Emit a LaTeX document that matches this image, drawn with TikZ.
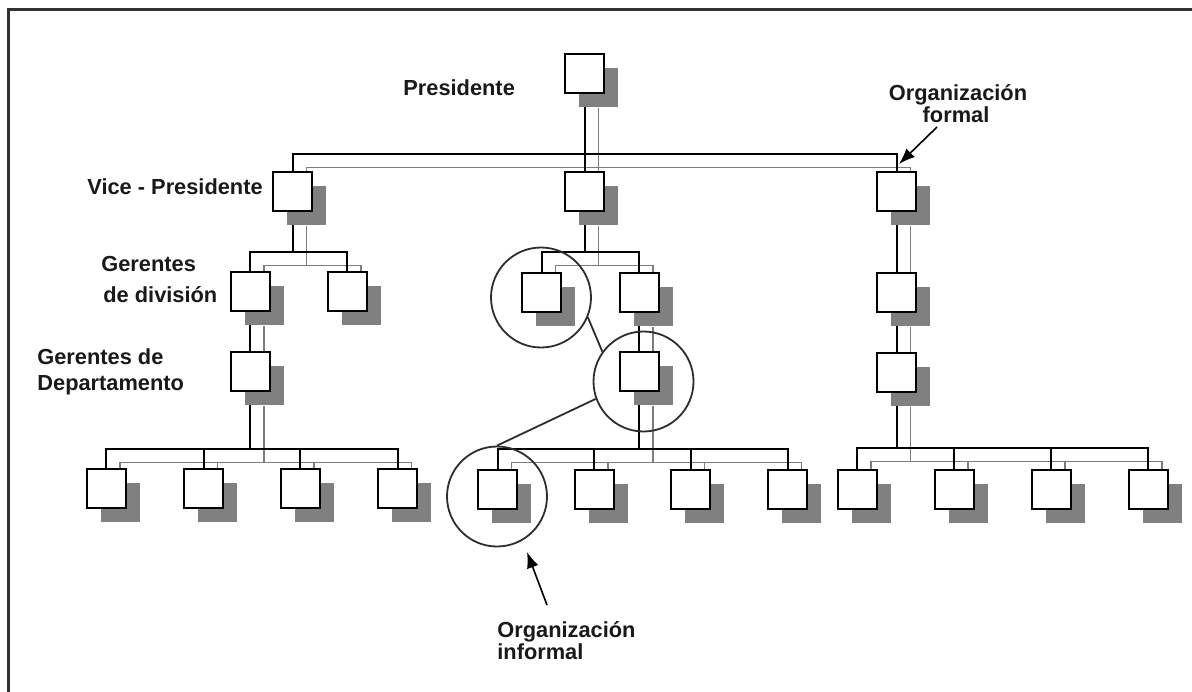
\documentclass[tikz,border=0pt]{standalone}
\usepackage{fontspec}
\setmainfont{Liberation Sans}
\usetikzlibrary{arrows.meta,shadows}
\pgfdeclarelayer{background}
\pgfsetlayers{background,main}
\definecolor{shadowgray}{RGB}{128,128,128}
\definecolor{linkgray}{RGB}{125,125,125}
\definecolor{framegray}{RGB}{50,50,50}
\definecolor{ringgray}{RGB}{45,45,45}

\tikzset{
  post/.style={draw=black, fill=white, line width=1pt, minimum size=19.5pt,
    inner sep=0pt, general shadow={shadow xshift=7pt, shadow yshift=-7pt, fill=shadowgray}},
  ring/.style={circle, draw=ringgray, line width=0.9pt, minimum size=50pt, inner sep=0pt},
  informal/.style={draw=ringgray, line width=0.9pt},
  pointer/.style={draw=black, line width=0.8pt, -{Latex[length=8pt,width=6pt]}},
  lbl/.style={inner sep=0pt, font=\fontsize{10.9}{13}\selectfont\bfseries, text=black!90},
  formallink/.style={color=black, line width=1pt},
  shadowlink/.style={color=linkgray, line width=0.8pt,
    transform canvas={xshift=7pt, yshift=-7pt}},
  frameline/.style={draw=framegray, line width=1.5pt}
}

% reporting lines of the chart, drawn once in black and once as a grey offset copy
\newcommand\orglinks{%
  \draw (P.south) -- ++(0,60) -| (V1.north);
  \draw (P.south) -- ++(0,60) -| (V2.north);
  \draw (P.south) -- ++(0,60) -| (V3.north);
  \draw (V1.south) -- ++(0,39.5) -| (D1a.north);
  \draw (V1.south) -- ++(0,39.5) -| (D1b.north);
  \draw (V2.south) -- ++(0,39.5) -| (D2a.north);
  \draw (V2.south) -- ++(0,39.5) -| (D2b.north);
  \draw (V3.south) -- (D3.north);
  \draw (D1a.south) -- (G1.north);
  \draw (D2b.south) -- (G2.north);
  \draw (D3.south) -- (G3.north);
  \foreach \c in {L1,L2,L3,L4}{\draw (G1.south) -- ++(0,56.5) -| (\c.north);}
  \foreach \c in {M1,M2,M3,M4}{\draw (G2.south) -- ++(0,56.5) -| (\c.north);}
  \foreach \c in {R1,R2,R3,R4}{\draw (G3.south) -- ++(0,55) -| (\c.north);}
}

\begin{document}
\begin{tikzpicture}[x=0.5pt, y=-0.5pt]
  \useasboundingbox (0,0) rectangle (1192,691);
  \draw[frameline] (1210,9) -- (8,9) -- (8,710);

  % positions
  \node[post] (P)   at (584.5,73)   {};
  \node[post] (V1)  at (292.5,191.5) {};
  \node[post] (V2)  at (584.5,191.5) {};
  \node[post] (V3)  at (896.5,191.5) {};
  \node[post] (D1a) at (250,291.5)  {};
  \node[post] (D1b) at (347,291.5)  {};
  \node[post] (D2a) at (541.5,292)  {};
  \node[post] (D2b) at (639,292)    {};
  \node[post] (D3)  at (896.5,292)  {};
  \node[post] (G1)  at (250,371.5)  {};
  \node[post] (G2)  at (639,371.5)  {};
  \node[post] (G3)  at (896.5,372)  {};
  \node[post] (L1) at (106,488.5)   {};
  \node[post] (L2) at (203.5,488.5) {};
  \node[post] (L3) at (300,488.5)   {};
  \node[post] (L4) at (397.5,488.5) {};
  \node[post] (M1) at (497.5,489)   {};
  \node[post] (M2) at (594,489)     {};
  \node[post] (M3) at (690.5,489)   {};
  \node[post] (M4) at (787.5,489)   {};
  \node[post] (R1) at (857,489)     {};
  \node[post] (R2) at (954,489)     {};
  \node[post] (R3) at (1051,489)    {};
  \node[post] (R4) at (1148,489)    {};

  \begin{pgfonlayer}{background}
    \begin{scope}[shadowlink] \orglinks \end{scope}
    \begin{scope}[formallink] \orglinks \end{scope}
  \end{pgfonlayer}

  % informal organisation rings
  \node[ring] (K1) at (541,297.5) {};
  \node[ring] (K2) at (643.5,381.5) {};
  \node[ring] (K3) at (497,496.5) {};
  \draw[informal] (K1.-23) -- (K2.144);
  \draw[informal] (K2.200) -- (K3.north);

  % level labels
  \node[lbl, anchor=base west] (tPres) at (403,95)  {Presidente};
  \node[lbl, anchor=base west] (tVP)   at (87,194)  {Vice - Presidente};
  \node[lbl, anchor=base west] (tGer1) at (101,271) {Gerentes};
  \node[lbl, anchor=base west] (tGer2) at (103,302) {de división};
  \node[lbl, anchor=base west] (tDep1) at (37,364)  {Gerentes de};
  \node[lbl, anchor=base west] (tDep2) at (37,390)  {Departamento};

  % formal / informal callouts
  \node[lbl, anchor=base] (tFor1) at (958,100) {Organización};
  \node[lbl, anchor=base] (tFor2) at (956,122) {formal};
  \coordinate (fTail) at (937,127);
  \coordinate (fTip)  at (899,164);
  \draw[pointer] (fTail) -- (fTip);

  \node[lbl, anchor=base west] (tInf1) at (497,637) {Organización};
  \node[lbl, anchor=base west] (tInf2) at (497,659) {informal};
  \coordinate (iTail) at (547,605);
  \coordinate (iTip)  at (527,552);
  \draw[pointer] (iTail) -- (iTip);
\end{tikzpicture}
\end{document}
